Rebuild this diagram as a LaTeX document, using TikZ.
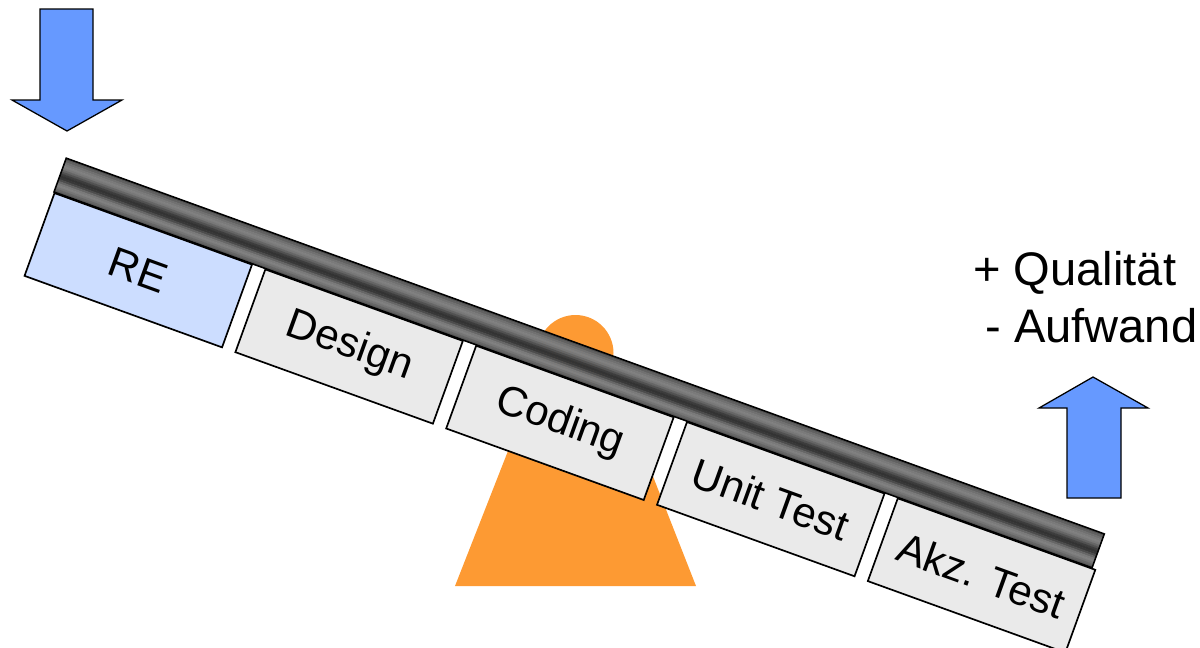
\documentclass[tikz,border=0pt]{standalone}
\usepackage{fontspec}
\setmainfont{Liberation Sans}
\usepackage{tikz}
\usetikzlibrary{positioning, calc}
\definecolor{arrowblue}{RGB}{102,153,255}
\definecolor{reblue}{RGB}{204,221,255}
\definecolor{boxgray}{RGB}{234,234,234}
\definecolor{fulcrum}{RGB}{253,154,51}
\tikzstyle{phase}  = [rectangle, minimum width=5.25cm, minimum height=2.2cm, inner sep=0pt, text centered, draw=black, line width=1.2pt, fill=boxgray, font=\fontsize{30}{35}\selectfont]
\tikzstyle{lever}  = [draw=black, line width=1.1pt]
\tikzstyle{bigarrow} = [draw=black, line width=0.9pt, fill=arrowblue, line join=miter]
\tikzstyle{label}  = [inner sep=0pt, font=\fontsize{33.5}{38}\selectfont]

\begin{document}
\begin{tikzpicture}[x=0.025cm, y=-0.025cm, node distance=0.3125cm]
  \useasboundingbox (0,0) rectangle (1200,647);

  % fulcrum
  \fill[fulcrum] (575.5,353) circle (38);
  \fill[fulcrum] (455,586) -- (696,586) -- (623,400) -- (528,400) -- cycle;

  % seesaw with the phases
  \begin{scope}[shift={(54,192)}, rotate=-19.9, transform shape]
    \foreach \k/\p in {0/68,1/62,2/56,3/52,4/50,5/53,6/60,7/68,8/76,9/80,10/78,11/70,12/60,13/52,14/50,15/54,16/60,17/66}
      \fill[black!\p] (0,-36+2*\k) rectangle (1104,-33.6+2*\k);
    \draw[lever] (0,0) rectangle (1104,-36);
    \node[phase, fill=reblue, anchor=north west] (re) at (0,0) {RE};
    \node[phase, right=of re]     (design) {Design};
    \node[phase, right=of design] (coding) {Coding};
    \node[phase, right=of coding] (unit)   {Unit Test};
    \node[phase, right=of unit]   (akz)    {Akz. Test};
  \end{scope}

  % arrows
  \filldraw[bigarrow] (40,9) -- (93,9) -- (93,100) -- (122,100) -- (67,131) -- (12,100) -- (40,100) -- cycle;
  \filldraw[bigarrow] (1067,498) -- (1121,498) -- (1121,408) -- (1148,408) -- (1093,377) -- (1039,408) -- (1067,408) -- cycle;

  \node[label, anchor=base west] (gain) at (973,285) {+ Qualität};
  \node[label, anchor=base west] (cost) at (985,342) {- Aufwand};
\end{tikzpicture}
\end{document}
